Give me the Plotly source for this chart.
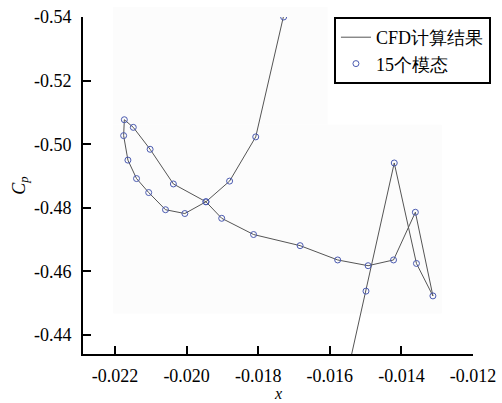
import plotly.graph_objects as go

# CFD path (ordered), includes points just outside the visible range
cfd_x = [-0.01555, -0.01499, -0.01420, -0.01358, -0.01312, -0.01361, -0.01422,
         -0.01493, -0.01578, -0.01683, -0.01813, -0.01902, -0.01946, -0.02037,
         -0.02102, -0.02149, -0.02174, -0.02176, -0.02164, -0.02140, -0.02106,
         -0.02059, -0.02005, -0.01946, -0.01880, -0.01807, -0.01729, -0.01719]
cfd_cp = [-0.4259, -0.4538, -0.4941, -0.4625, -0.4523, -0.4786, -0.4636,
          -0.4618, -0.4636, -0.4681, -0.4716, -0.4767, -0.4819, -0.4875,
          -0.4984, -0.5053, -0.5077, -0.5027, -0.4950, -0.4892, -0.4848,
          -0.4794, -0.4782, -0.4819, -0.4884, -0.5023, -0.5400, -0.5453]

# 15-mode reconstruction points
mode_x = cfd_x[1:-1]
mode_cp = cfd_cp[1:-1]

x_tickvals = [-0.022, -0.020, -0.018, -0.016, -0.014, -0.012]
x_ticktext = ["-0.022", "-0.020", "-0.018", "-0.016", "-0.014", "-0.012"]
y_tickvals = [-0.54, -0.52, -0.50, -0.48, -0.46, -0.44]
y_ticktext = ["-0.54", "-0.52", "-0.50", "-0.48", "-0.46", "-0.44"]

FONT = "Liberation Serif"

fig = go.Figure()
fig.add_trace(go.Scatter(
    x=cfd_x, y=cfd_cp, mode="lines", name="CFD计算结果",
    line=dict(color="#555555", width=1),
))
fig.add_trace(go.Scatter(
    x=mode_x, y=mode_cp, mode="markers", name="15个模态",
    marker=dict(symbol="circle-open", size=6, color="#4a5ab0", line=dict(width=1, color="#4a5ab0")),
))

fig.update_layout(
    width=502, height=403,
    margin=dict(l=83, r=29, t=17, b=49, autoexpand=False),
    paper_bgcolor="white", plot_bgcolor="white",
    font=dict(family=FONT, size=17, color="black"),
    showlegend=True,
    legend=dict(
        x=1.046, xanchor="right", y=1.0, yanchor="top",
        bgcolor="white", bordercolor="black", borderwidth=2,
        font=dict(family=FONT, size=18, color="black"),
        tracegroupgap=0, itemwidth=30,
    ),
    shapes=[
        dict(type="rect", xref="paper", yref="paper", x0=0.077, x1=0.92, y0=0.12, y1=0.68,
             fillcolor="#fcfcfc", line=dict(width=0), layer="below"),
        dict(type="rect", xref="paper", yref="paper", x0=0.077, x1=0.627, y0=0.68, y1=1.03,
             fillcolor="#fcfcfc", line=dict(width=0), layer="below"),
    ],
    annotations=[
        dict(text="<i>x</i>", xref="paper", yref="paper", x=0.5, y=-0.118,
             xanchor="center", yanchor="middle", showarrow=False,
             font=dict(family=FONT, size=16, color="black")),
    ],
)
fig.update_xaxes(
    range=[-0.022895, -0.012], showgrid=False, zeroline=False,
    showline=True, linewidth=2, linecolor="black", automargin=False,
    ticks="inside", ticklen=8, tickwidth=2, tickcolor="black",
    tickvals=x_tickvals, ticktext=x_ticktext, ticklabelstandoff=4,
    tickfont=dict(family=FONT, size=18),
)
fig.update_yaxes(
    range=[-0.43403, -0.54], showgrid=False, zeroline=False,
    showline=True, linewidth=2, linecolor="black", automargin=False,
    ticks="inside", ticklen=8, tickwidth=2, tickcolor="black",
    tickvals=y_tickvals, ticktext=y_ticktext, ticklabelstandoff=6,
    tickfont=dict(family=FONT, size=18),
    title=dict(text="<i>C</i><sub><i>p</i></sub>", font=dict(family=FONT, size=18), standoff=4),
)

fig.write_html("out.html")
